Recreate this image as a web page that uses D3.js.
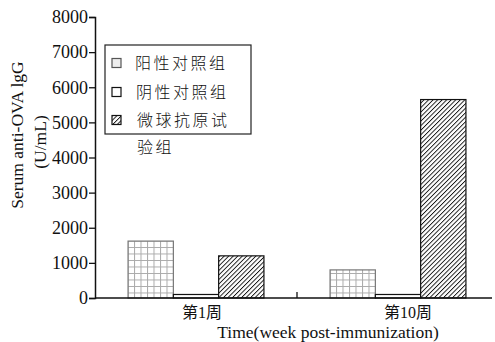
<!DOCTYPE html>
<html>
<head>
<meta charset="utf-8">
<script src="https://cdn.jsdelivr.net/npm/d3@7"></script>
<style>
  body { margin: 0; background: #fff; }
  svg { display: block; }
  text { font-family: "Liberation Serif", "Noto Sans CJK SC", serif; fill: #111; }
  .cjk { font-family: "Noto Sans CJK SC", sans-serif; font-weight: 300; }
</style>
</head>
<body>
<svg id="chart"></svg>
<script>
// data
const weeks = ['第1周', '第10周']
const groups = ['阳性对照组', '阴性对照组', '微球抗原试验组']
const positive = [1620, 800]
const negative = [100, 100]
const microsphere = [1200, 5650]
const yTicks = [0, 1000, 2000, 3000, 4000, 5000, 6000, 7000, 8000]

const width = 495
const height = 342

const svg = d3.select('#chart')
  .attr('width', width)
  .attr('height', height)

// patterns
const defs = svg.append('defs')
const grid = defs.append('pattern')
  .attr('id', 'grid')
  .attr('patternUnits', 'userSpaceOnUse')
  .attr('width', 6.5).attr('height', 6.5)
grid.append('rect').attr('width', 6.5).attr('height', 6.5).attr('fill', '#fff')
grid.append('path').attr('d', 'M0,0.5H6.5M0.5,0V6.5')
  .attr('stroke', '#aaa').attr('stroke-width', 1)

const hatch = defs.append('pattern')
  .attr('id', 'hatch')
  .attr('patternUnits', 'userSpaceOnUse')
  .attr('width', 3.2).attr('height', 3.2)
  .attr('patternTransform', 'rotate(45)')
hatch.append('rect').attr('width', 3.2).attr('height', 3.2).attr('fill', '#fff')
hatch.append('line').attr('x1', 0).attr('y1', 0).attr('x2', 0).attr('y2', 3.2)
  .attr('stroke', '#111').attr('stroke-width', 1.8)

const fills = ['url(#grid)', '#fff', 'url(#hatch)']
const strokes = ['#777', '#111', '#111']

// scales
const x = d3.scaleBand().domain(weeks).range([95, 499])
const xs = d3.scaleBand().domain(groups).range([0, x.bandwidth()]).paddingOuter(0.73)
const y = d3.scaleLinear().domain([0, 8000]).range([298, 17])

const rows = weeks.map((w, i) => ({
  week: w,
  vals: [positive[i], negative[i], microsphere[i]]
}))

// bars
const g = svg.selectAll('.grp')
  .data(rows)
  .enter()
  .append('g')
  .attr('transform', d => `translate(${x(d.week)},0)`)

g.selectAll('rect')
  .data(d => d.vals.map((v, k) => ({ k, v })))
  .enter()
  .append('rect')
  .attr('x', d => xs(groups[d.k]))
  .attr('y', d => y(d.v))
  .attr('width', xs.bandwidth())
  .attr('height', d => y(0) - y(d.v))
  .attr('fill', d => fills[d.k])
  .attr('stroke', d => strokes[d.k])
  .attr('stroke-width', 1.2)

// y axis
const yAxis = d3.axisLeft(y).tickValues(yTicks).tickFormat(d3.format('d')).tickSize(6).tickPadding(1)
const ya = svg.append('g')
  .attr('transform', 'translate(95,0)')
  .call(yAxis)
  .attr('font-family', null)
  .attr('font-size', null)
ya.select('.domain').attr('stroke', '#111').attr('stroke-width', 1.5)
ya.selectAll('.tick line').attr('stroke', '#111').attr('stroke-width', 1.3)
ya.selectAll('.tick text')
  .style('font-family', '"Liberation Serif", serif')
  .style('font-size', '18px')
  .attr('fill', '#111')

// x axis
svg.append('line')
  .attr('x1', 95).attr('x2', 492)
  .attr('y1', y(0)).attr('y2', y(0))
  .attr('stroke', '#111').attr('stroke-width', 1.5)
svg.append('line')
  .attr('x1', x(weeks[1])).attr('x2', x(weeks[1]))
  .attr('y1', y(0)).attr('y2', y(0) - 6)
  .attr('stroke', '#111').attr('stroke-width', 1.3)

svg.selectAll('.xlab')
  .data(weeks)
  .enter()
  .append('text')
  .attr('class', 'xlab')
  .attr('x', d => x(d) + 87)
  .attr('y', 318)
  .style('font-size', '16px')
  .text(d => d)

svg.append('text')
  .attr('x', 328)
  .attr('y', 338)
  .attr('text-anchor', 'middle')
  .style('font-size', '17.5px')
  .text('Time(week post-immunization)')

// y title
svg.append('text')
  .attr('transform', 'translate(23,135) rotate(-90)')
  .attr('text-anchor', 'middle')
  .style('font-size', '17.5px')
  .text('Serum anti-OVA lgG')
svg.append('text')
  .attr('transform', 'translate(46,142) rotate(-90)')
  .attr('text-anchor', 'middle')
  .style('font-size', '17.5px')
  .text('(U/mL)')

// legend
svg.append('rect')
  .attr('x', 105).attr('y', 45)
  .attr('width', 146).attr('height', 89)
  .attr('fill', '#fff')
  .attr('stroke', '#222').attr('stroke-width', 1.2)

const legendRows = [63, 92, 120]
const lg = svg.selectAll('.leg')
  .data(groups)
  .enter()
  .append('g')
  .attr('transform', (d, i) => `translate(112,${legendRows[i]})`)

lg.append('rect')
  .attr('x', 0).attr('y', -4.5)
  .attr('width', 9).attr('height', 9)
  .attr('fill', (d, i) => i === 0 ? '#eee' : fills[i])
  .attr('stroke', (d, i) => i === 0 ? '#555' : '#111')
  .attr('stroke-width', 1.2)

lg.append('text')
  .attr('class', 'cjk')
  .attr('x', (d, i) => 23 + i)
  .attr('y', 6)
  .style('font-size', '16px')
  .style('letter-spacing', '2.5px')
  .text(d => d.length > 5 ? d.slice(0, 5) : d)

svg.append('text')
  .attr('class', 'cjk')
  .attr('x', 137)
  .attr('y', 153)
  .style('font-size', '16px')
  .style('letter-spacing', '2.5px')
  .text(groups[2].slice(5))
</script>
</body>
</html>
